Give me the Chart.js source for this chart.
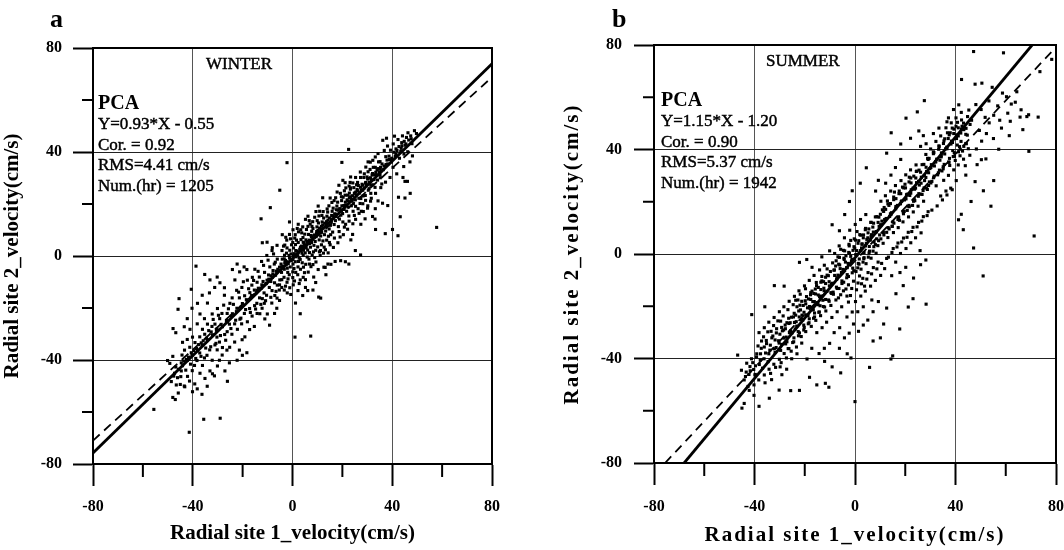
<!DOCTYPE html>
<html>
<head>
<meta charset="utf-8">
<script src="https://cdn.jsdelivr.net/npm/chart.js@4.4.0/dist/chart.umd.min.js"></script>
<style>
  html, body { margin: 0; padding: 0; background: #fff; }
  #wrap { position: relative; width: 1064px; height: 550px; }
  .panel { position: absolute; top: 0; width: 532px; height: 550px; }
</style>
</head>
<body>
<div id="wrap">
  <div class="panel" style="left:0"><canvas id="winterChart"></canvas></div>
  <div class="panel" style="left:532px"><canvas id="summerChart"></canvas></div>
</div>
<script>
// values (cm/s)
const axisMin = -80;
const axisMax = 80;
const tickStep = 20;
const labelStep = 40;

const winterPoints = [
  [36.2,44.5],[38.1,42.3],[40.4,43.1],[42.3,44.8],[44.1,46.2],[46.3,47.4],[47.6,45.1],[48.9,48.2],[45.2,42.6],[43.4,40.2],
  [41.2,38.4],[39.3,40.7],[37.4,38.2],[35.1,36.3],[34.3,39.4],[33.2,34.1],[36.4,33.2],[38.2,35.4],[40.3,34.1],[41.8,31.6],
  [44.3,30.2],[46.1,28.7],[47.2,24.1],[45.1,22.3],[44.6,34.4],[48.1,38.5],[47.1,36.2],[46.2,40.1],[39.1,30.2],[37.3,28.4],
  [35.2,30.1],[32.6,31.2],[31.1,33.3],[30.2,29.8],[29.3,28.1],[31.4,27.2],[33.1,26.4],[28.2,25.3],[26.4,27.1],[27.3,30.2],
  [24.2,28.1],[25.1,24.3],[23.3,26.2],[22.1,23.4],[27.4,22.1],[29.2,23.3],[31.3,21.1],[33.2,18.2],[30.1,18.4],[27.6,17.2],
  [25.3,19.1],[40.1,10.2],[42.3,7.8],[37.2,8.6],[38.2,19.4],[36.1,20.3],[33.1,14.2],[43.2,15.1],[42.5,22.6],[45.1,28.7],
  [36.8,40.6],[41.5,41.2],[43.8,43.6],[38.8,37.1],[34.9,33.4],[32.2,36.8],[30.7,25.9],[28.8,31.6],[35.8,27.7],[39.7,36.2],
  [42.9,37.6],[44.7,39.2],[40.9,46.1],[37.7,45.3],[47.9,43.2],[46.6,44.6],[49.7,47.1],
  [57.8,11],[22.5,41],[-2.2,35.9],[19.8,36],[-55.6,-59],[-41.4,-67.8],[-35.6,-62.8],[-29,-62.4],[1,-31.2],[7.3,-30.8],
  [-5.1,25.3],[-8.9,18.6],[-12.6,14.3],[10.5,-15.8],[27.3,0.4],[-38.7,-3.9],[-40.6,-12.8],[-45.5,-16.4],[-45.9,-20.5],
  [5.4,4.2],[6.8,6.1],[7.5,7.9],[8.3,6.4],[9.6,8.7],[10.2,9.8],[11.4,10.3],[12.1,11.9],[13.5,12.2],[14.2,13.8],
  [15.6,14.1],[6.1,2.3],[7.2,3.4],[8.6,4.1],[9.1,5.6],[10.7,6.2],[11.3,7.7],[12.8,8.2],[13.3,9.6],[14.7,10.4],
  [15.2,11.8],[6.4,8.3],[7.7,9.5],[8.2,10.6],[9.8,11.2],[10.4,12.7],[11.9,13.1],[12.5,14.6],[13.8,15.3],[14.1,16.9],
  [15.9,17.2],[6.6,-1.2],[7.9,0.4],[8.4,1.6],[9.3,2.2],[10.1,3.5],[11.6,4.3],[12.2,5.8],[13.7,6.1],[14.4,7.6],
  [15.3,8.2],[6.2,11.4],[8.1,13.2],[10.6,15.4],[12.3,17.1],[14.6,19.3],[7.4,-4.1],[9.4,-2.3],[11.1,0.2],[13.2,2.4],
  [15.1,4.3],[6.3,-6.2],[8.5,-8.1],[10.3,-5.2],[12.6,-4.3],[14.2,-3.1],[11.3,-16.2],[8.2,-13.1],[13.4,-7.2],[6.2,15.3],
  [9.4,17.1],[12.1,22.4],[10.3,19.2],[7.1,12.3],[5.2,14.1],[13.1,-4.4],[15.4,-3.2],[11.2,2.1],[9.3,-10.2],[6.1,-13.3],
  [14.3,1.2],[12.4,1.1],[8.2,-3.3],
  [16.2,15.3],[17.4,16.1],[18.3,17.6],[19.1,18.2],[20.6,19.4],[21.2,20.7],[22.4,21.1],[23.3,22.8],[24.1,23.2],[25.4,24.6],
  [16.7,12.1],[17.2,13.6],[18.8,14.2],[19.4,15.7],[20.1,16.3],[21.7,17.2],[22.3,18.8],[23.6,19.3],[24.4,20.1],[25.2,21.6],
  [16.3,18.4],[17.8,19.2],[18.1,20.7],[19.7,21.3],[20.3,22.6],[21.1,23.4],[22.8,24.2],[23.2,25.7],[24.6,26.3],[25.7,27.4],
  [16.1,9.2],[18.4,11.3],[20.2,13.1],[22.6,15.4],[24.3,17.2],[17.3,22.4],[19.2,24.1],[21.4,26.2],[23.1,28.3],[18.2,5.1],
  [20.4,8.2],[22.1,10.3],[24.2,12.4],[17.1,-2.1],[19.3,-1.8],[21.2,-2.2],[22.6,-3.1],[16.4,3.3],[18.6,27.2],[20.2,29.1],
  [15.1,22.3],[23.4,6.2],[25.3,14.1],[19.1,7.3],[21.3,12.2],[24.1,8.3],[21.1,28.2],[23.3,30.4],
  [26.2,25.1],[27.3,26.4],[28.1,27.2],[29.4,28.3],[30.2,29.6],[31.3,30.1],[32.1,31.7],[33.4,32.2],[34.2,33.6],[35.3,34.1],
  [26.6,22.2],[28.3,23.1],[30.4,25.3],[32.2,27.4],[34.1,29.2],[26.1,28.3],[28.6,30.2],[30.3,32.4],[32.4,34.1],[34.5,36.2],
  [27.1,20.2],[29.3,21.4],[31.6,22.2],[33.3,24.1],[35.4,26.3],[27.2,32.3],[29.4,34.2],[31.2,36.1],[26.3,18.2],[28.4,17.1],
  [30.2,19.3],[32.1,15.2],[25.2,2.1],[27.4,12.2],[29.1,14.3],[33.3,10.2],[30.3,36.2],[33.2,38.1],[35.1,31.2],[31.4,24.1],
  [34.3,21.2],[28.2,20.1],[25.3,30.2],
  [-4.2,-4.1],[-3.1,-2.6],[-2.3,-2.2],[-1.2,-0.8],[0.3,0.2],[1.4,-0.3],[2.2,1.3],[3.3,2.1],[4.1,3.4],[4.8,4.2],
  [-4.4,-6.3],[-3.3,-5.1],[-2.1,-4.7],[-0.9,-4.2],[0.2,-3.1],[1.1,-2.2],[2.4,-2.1],[3.1,-1.3],[4.3,0.3],[5.1,1.2],
  [-4.1,-1.2],[-3.2,0.3],[-2.4,1.1],[-1.1,2.2],[0.4,3.1],[1.2,4.4],[2.3,5.2],[3.4,6.3],[4.2,7.1],[4.9,8.4],
  [-4.3,-9.1],[-3.4,-8.2],[-2.2,-10.1],[-1.3,-7.2],[0.1,-6.1],[1.3,-6.3],[2.1,-7.2],[3.2,-5.1],[4.4,-4.3],[5.3,-3.2],
  [-4.2,2.1],[-3.1,4.2],[-2.3,6.1],[-1.2,8.3],[0.2,10.1],[1.1,8.2],[2.4,9.3],[3.3,10.1],[4.1,11.2],[-2.1,-14.2],
  [0.3,-11.1],[2.2,-13.3],[4.1,-15.2],[1.2,-18.1],[3.1,-22.2],[-5.2,-11.1],[-3.3,-13.1],[5.2,-9.1],[4.3,-8.2],[-1.1,-12.2],
  [-2.2,3.1],[0.1,5.2],[1.3,2.1],[3.2,3.4],[-3.3,-1.1],[-1.4,0.2],[0.2,-1.3],[2.1,0.1],[4.3,5.3],[5.4,6.2],
  [-4.1,8.2],[-1.2,13.1],[2.3,12.2],[0.1,-8.3],[2.2,-4.2],[4.4,2.2],[-4.3,-12.1],[3.1,-9.2],[5.2,-12.1],
  [-14.1,-13.2],[-12.3,-11.1],[-10.2,-9.3],[-8.1,-8.2],[-6.3,-6.1],[-13.2,-16.1],[-11.4,-14.2],[-9.3,-12.1],[-7.2,-10.3],[-14.3,-18.2],
  [-12.1,-16.4],[-10.4,-15.1],[-8.2,-13.3],[-6.1,-11.2],[-13.3,-8.1],[-11.2,-6.3],[-9.1,-4.2],[-7.3,-3.1],[-5.2,-4.3],[-12.2,-20.1],
  [-10.1,-22.3],[-8.3,-18.1],[-6.2,-16.2],[-12.4,-2.1],[-10.3,0.2],[-8.2,2.1],[-6.1,-1.2],[-11.1,-24.2],[-9.2,-26.6],[-6.3,-20.1],
  [-14.2,-10.1],[-7.1,-15.2],[-5.3,-13.1],[-5.1,-9.2],[-8.1,3.2],[-6.2,4.1],[-10.2,5.3],[-12.1,5.1],[-7.2,-22.1],[-11.3,-18.2],
  [-13.1,-22.2],[-5.2,-17.1],[-9.6,-7.3],[-7.8,-5.6],[-11.8,-9.8],[-13.7,-12.4],
  [-24.1,-22.2],[-22.3,-20.1],[-20.1,-18.3],[-18.2,-17.1],[-16.4,-15.2],[-23.2,-26.1],[-21.1,-24.3],[-19.3,-22.1],[-17.2,-20.2],[-24.3,-30.1],
  [-22.1,-28.2],[-20.4,-26.1],[-18.1,-25.3],[-16.2,-23.1],[-24.2,-16.1],[-22.4,-13.2],[-20.3,-12.1],[-18.1,-9.3],[-16.3,-11.2],[-23.1,-9.2],
  [-21.2,-6.1],[-19.4,-4.2],[-17.1,-14.1],[-25.3,-26.2],[-23.2,-33.1],[-21.3,-36.2],[-19.1,-31.1],[-18.3,-37.2],[-22.2,-40.1],[-20.2,-32.2],
  [-15.3,-27.1],[-17.2,-28.3],[-24.1,-5.2],[-21.3,-16.1],[-19.2,-15.3],[-15.2,-19.1],[-16.1,-8.2],[-15.3,-13.1],[-22.2,-3.1],[-18.3,-5.2],
  [-15.1,-5.1],[-20.1,-38.2],[-14.2,-22.1],[-25.2,-35.1],
  [-34.2,-32.1],[-32.1,-30.3],[-30.3,-28.1],[-28.1,-27.2],[-33.2,-36.1],[-31.1,-34.2],[-29.3,-33.1],[-27.2,-30.2],[-26.1,-25.3],[-28.3,-22.1],
  [-30.1,-20.2],[-32.2,-22.3],[-34.1,-18.1],[-33.3,-14.2],[-31.2,-12.1],[-29.1,-10.3],[-27.3,-15.1],[-25.1,-18.2],[-26.2,-22.1],[-34.3,-38.2],
  [-32.2,-40.1],[-30.1,-42.3],[-28.2,-38.1],[-26.3,-36.2],[-30.2,-36.1],[-33.1,-44.2],[-31.3,-46.1],[-34.2,-50.1],[-32.1,-45.3],[-35.2,-7.1],
  [-33.1,-9.2],[-30.2,-8.1],[-27.3,-12.2],[-28.1,-35.2],[-26.2,-29.1],[-31.1,-26.2],[-29.2,-24.1],[-27.1,-44.2],[-25.3,-41.1],[-30.3,-31.2],
  [-32.3,-27.1],[-34.1,-26.2],[-35.2,-30.1],[-26.1,-48.2],[-29.3,-40.1],
  [-44.1,-42.2],[-42.2,-40.1],[-40.3,-38.2],[-38.1,-36.3],[-41.2,-35.1],[-43.3,-36.2],[-39.1,-33.3],[-37.2,-31.1],[-36.3,-34.2],[-40.1,-31.2],
  [-42.2,-32.1],[-38.3,-40.2],[-36.1,-42.1],[-35.3,-39.2],[-40.2,-44.1],[-42.1,-46.3],[-41.3,-48.1],[-39.2,-49.2],[-37.1,-45.1],[-43.2,-50.3],
  [-40.1,-52.2],[-38.2,-51.1],[-36.3,-53.2],[-35.1,-47.1],[-44.3,-38.1],[-41.1,-28.2],[-38.2,-26.1],[-37.1,-22.3],[-40.3,-20.1],[-38.1,-18.2],
  [-36.2,-15.1],[-35.3,-24.1],[-36.1,-28.2],[-42.2,-24.1],[-44.1,-33.2],[-39.3,-42.1],[-37.2,-37.3],
  [-48,-38.6],[-46.8,-42.7],[-48,-54.4],[-47,-55.2],[-45,-49.4],[-43.4,-50],[-43.4,-27.2],[-47.9,-27.9],[-46.8,-29.5],[-49.2,-41.3],
  [-50.1,-40.2],[-47.3,-45.1],[-46.1,-46.8],[-44.6,-44.2],[-48.6,-48.3],[-45.8,-52.7],
  [-9.5,-8.9],[-8.7,-9.8],[-7.9,-6.9],[-6.8,-7.4],[-5.9,-5.1],[-4.9,-5.6],[-3.7,-3.9],[-2.8,-1.7],[-1.7,-2.9],[-0.6,-1.8],
  [0.7,0.9],[1.8,1.9],[2.9,2.6],[3.8,1.1],[4.6,5.1],[5.8,5.6],[6.9,4.8],[7.6,5.2],[8.8,8.1],[9.7,9.4],
  [10.8,10.7],[11.7,9.1],[12.9,12.6],[13.6,13.2],[14.8,14.6],[15.7,15.6],[16.9,16.2],[17.6,17.8],[18.9,18.1],[19.8,19.3],
  [20.7,17.9],[21.9,21.6],[22.8,22.4],[23.9,21.2],[24.8,24.1],[25.9,25.6],[26.8,24.2],[27.9,27.6],[28.7,26.1],[29.9,30.4],
  [30.8,28.3],[31.9,31.2],[32.7,29.4],[33.9,33.1],[34.8,32.2],[35.9,35.4],[36.7,34.6],[37.9,36.9],[38.7,38.4],[39.8,37.6],
  [40.7,39.9],[41.9,40.6],[42.7,42.1],[43.9,42.4],[44.8,44.1],[45.7,45.6],
  [-3.6,3.8],[-2.7,7.2],[-0.8,6.6],[0.9,6.9],[1.9,10.6],[3.7,8.9],[5.6,10.2],[6.7,13.6],[7.8,11.4],[8.9,14.9],
  [9.9,13.6],[10.9,17.2],[11.8,15.6],[13.9,18.1],[15.8,20.6],[16.7,21.3],[17.9,24.6],[19.6,22.8],[20.8,25.1],[22.7,26.9],
  [-7.6,0.8],[-6.9,-2.4],[-9.8,-1.6],[-11.6,-3.6],[-13.8,-5.9],[-15.6,-9.4],[-17.6,-12.6],[-19.7,-9.9],[-21.6,-13.9],[-23.7,-18.6],
  [-25.7,-20.3],[-27.6,-18.9],[-29.7,-22.8],[-31.8,-24.4],[-33.6,-28.7],[-35.8,-32.6],[-37.7,-34.1],[-39.6,-36.4],[-41.7,-38.9],[-43.6,-40.4],
  [-45.7,-43.6],[-47.6,-46.2],
  [-1.8,-8.8],[0.8,-9.6],[2.7,-10.6],[4.8,-6.4],[6.8,-3.1],[8.9,-0.6],[10.8,1.6],[12.7,3.4],[14.8,5.2],[16.8,6.9],
  [18.7,9.4],[20.8,11.1],[22.7,13.4],[24.8,15.6],[26.7,16.4],[-6.6,-13.6],[-8.7,-15.9],[-10.8,-17.2],[-12.7,-18.6],[-14.8,-20.4],
  [-16.9,-21.7],[-18.8,-20.6],[-20.7,-23.9],[-22.8,-24.7],[-24.7,-27.9],[-26.8,-32.4],[-28.9,-30.6],[-30.7,-33.6],[-32.8,-34.9],[-34.8,-35.4],
  [-36.7,-38.6],[-38.8,-39.4],[-40.9,-41.6],[-42.8,-43.9],[-44.8,-46.4],[-46.6,-49.6],
  [-44.6,-41.1],[-42.5,-39.8],[-40.6,-37.2],[-38.5,-35.6],[-36.6,-33.4],[-34.5,-31.6],[-32.6,-29.2],[-30.5,-28.6],[-28.6,-26.3],[-26.5,-24.8],
  [-24.6,-23.1],[-22.5,-21.4],[-20.6,-19.6],[-18.5,-16.8],[-16.6,-15.9],[-14.5,-14.1],[-12.6,-12.4],[-10.5,-10.6],[-8.6,-7.6],[-6.5,-5.8],
  [-4.6,-3.1],[-2.5,-3.4],[-0.6,0.8],[1.5,0.4],[3.6,3.8],[5.5,3.1],[7.6,7.4],[9.5,7.6],[11.6,11.4],[13.5,11.1],
  [15.6,13.4],[17.5,15.2],[19.6,17.4],[21.5,19.6],[23.6,21.8],[25.5,23.4],[27.6,25.2],[29.5,27.4],[31.6,29.1],[33.5,31.3],
  [35.6,32.8],[37.5,35.2],[39.6,36.8],[41.5,39.2],[43.6,41.4],[45.5,43.1],[47.4,46.2],
  [-1.9,-6.3],[0.6,-4.8],[2.7,-0.8],[3.9,-2.6],[5.9,-0.4],[6.8,1.3],[-0.4,4.3],[1.6,6.1],[-2.8,-11.6],[-0.7,-14.8]
];

const summerPoints = [
  [47.2,77.5],[59.1,77],[78.3,74.5],[73.6,69.8],[42.4,66.8],[47.8,65],[50.5,65.4],[54.6,63.8],[58.7,61.6],[60.3,60.2],
  [63.8,58.1],[66.1,55.2],[68.4,52.6],[65.7,52.4],[61.8,50.8],[55.2,53.1],[53.4,50.2],[50.2,55.3],[48.1,57.2],[45.3,55.1],
  [66.8,47.6],[58.3,48.2],[61.4,45.3],[55.1,44.2],[52.3,46.1],[50.4,43.2],[57.2,40.1],[69.2,39.3],[48.3,40.2],[52.1,36.4],
  [50.3,36.1],[47.8,27.7],[55.2,28.1],[51.1,24.2],[54.1,18.3],[46.2,20.1],[42.3,15.2],[43.1,9.3],[41.2,13.1],[71.3,6.9],
  [47.2,2.3],[51,-8.4],[62.2,57.4],[56.8,56.7],[51.8,52.3],[45.8,49.6],[49.5,47.3],[53.3,58.6],[60.8,53.9],[57.6,51.2],
  [44.1,45.8],[46.4,51.2],[69.1,53.3],[64.4,62.1],[72.9,52.4],[48.6,34.2],[45.7,37.8],
  [30.2,33.1],[32.1,35.4],[34.3,37.2],[36.1,40.3],[38.2,42.1],[40.4,44.2],[42.1,46.3],[44.2,48.1],[31.3,29.2],[33.2,31.1],
  [35.1,33.4],[37.3,35.2],[39.1,37.3],[41.2,39.1],[43.3,41.2],[29.1,36.2],[31.2,38.4],[33.3,40.1],[35.2,42.3],[37.1,44.2],
  [39.3,46.1],[41.1,48.3],[43.2,50.1],[36.2,48.3],[38.3,50.2],[40.2,52.1],[42.3,54.2],[34.1,45.2],[32.2,43.1],[30.1,40.2],
  [28.2,38.1],[35.3,28.2],[37.2,30.1],[39.3,32.2],[41.1,34.1],[43.2,36.3],[44.1,30.2],[40.3,28.1],[38.1,25.2],[36.2,24.1],
  [34.1,22.2],[32.3,26.1],[30.2,27.2],[29.3,31.1],[44.3,42.2],[42.2,43.1],[45.1,40.3],[39.2,55.3],[41.3,57.1],[37.2,52.1],
  [33.4,48.2],[31.2,46.1],[28.3,42.2],[27.6,58.7],[24.8,54.4],[20.3,52],[14.4,46.4],[12.6,38.6],[18.2,42.1],[22.1,44.3],
  [25.4,47.1],[27.2,45.3],[26.1,41.2],[36.8,46.4],[38.9,39.6],[40.7,41.7],[42.8,39.4],[44.7,45.5],[35.7,38.3],[33.8,35.9],
  [31.6,33.7],[34.6,31.8],[37.7,33.9],[39.9,35.8],[41.8,37.6],[43.9,33.8],[42.6,48.9],[40.8,50.4],[38.7,48.2],[36.6,50.6],
  [10.2,11.1],[12.1,13.2],[14.3,15.1],[16.2,17.3],[18.1,19.2],[20.3,21.1],[22.2,23.3],[24.1,25.2],[26.3,27.1],[28.2,29.3],
  [11.3,8.2],[13.2,10.1],[15.1,12.3],[17.3,14.2],[19.2,16.1],[21.1,18.3],[23.3,20.2],[25.2,22.1],[27.1,24.3],[29.3,26.2],
  [10.1,15.2],[12.2,17.1],[14.1,19.3],[16.3,21.2],[18.2,23.1],[20.1,25.3],[22.3,27.2],[24.2,29.1],[26.1,31.3],[28.3,33.2],
  [11.2,4.1],[13.1,6.3],[15.3,8.2],[17.2,10.1],[19.1,12.3],[21.3,14.2],[23.2,16.1],[25.1,18.3],[27.3,20.2],[10.3,20.2],
  [12.1,22.3],[14.2,24.1],[16.1,26.2],[18.3,28.1],[20.2,30.3],[22.1,32.2],[24.3,34.1],[15.2,2.1],[17.1,4.2],[19.3,6.1],
  [21.2,8.3],[23.1,10.2],[25.3,12.1],[27.2,14.3],[29.1,16.2],[13.3,-1.2],[16.2,-3.1],[18.1,0.2],[20.3,2.1],[22.2,4.3],
  [24.1,6.2],[26.3,8.1],[12.2,27.1],[14.3,30.2],[16.1,33.1],[18.2,36.2],[8.2,24.1],[9.3,28.2],[4.5,33],[20.2,-5.1],
  [23.3,-9.2],[26.1,-4.1],[28.2,-2.3],[23.1,-17.1],[28.3,-19.2],[19.2,-12.1],[16.3,-15.2],[21.2,-20.3],[17.8,-28.7],[25.9,1.3],
  [11.8,-5.6],[14.6,-8.3],[17.9,-7.1],[10.7,12.6],[13.8,14.4],[16.9,18.6],[19.7,20.7],[21.8,22.4],[23.7,24.8],[25.6,26.4],
  [27.7,28.1],[15.7,23.7],[18.9,25.6],[21.6,29.4],[24.6,31.7],[12.9,20.3],[11.6,17.8],[14.8,10.6],[17.7,12.9],[20.8,16.7],
  [22.9,18.6],[26.7,22.8],[28.8,24.7],
  [-9.1,-11.2],[-7.2,-9.1],[-5.3,-7.3],[-3.1,-5.2],[-1.2,-2.1],[0.3,-0.2],[2.1,1.3],[4.2,3.1],[6.1,5.3],[8.3,8.2],
  [-8.2,-6.1],[-6.1,-4.2],[-4.3,-2.1],[-2.2,0.3],[-0.1,2.2],[1.2,4.1],[3.3,6.2],[5.2,8.1],[7.1,10.3],[9.2,12.1],
  [-9.3,-15.1],[-7.1,-13.2],[-5.2,-11.3],[-3.3,-9.1],[-1.1,-7.2],[1.1,-5.3],[3.2,-3.1],[5.3,-1.2],[7.2,1.1],[9.1,3.2],
  [-6.2,-1.3],[-4.1,1.2],[-2.3,3.1],[0.2,5.3],[2.3,7.2],[4.1,9.3],[6.3,12.1],[8.1,14.2],[-8.1,0.2],[-6.3,3.1],
  [-4.2,6.2],[-2.1,9.1],[0.1,11.3],[2.2,13.2],[4.3,15.1],[-9.1,11.2],[-6.2,8.9],[-4.1,15.1],[-2.2,20.1],[-1.1,24.2],
  [2.1,27.1],[-3.2,-16.1],[-1.3,-13.2],[1.2,-11.1],[3.1,-9.3],[5.2,-7.1],[7.3,-5.2],[9.2,-3.1],[0.2,-18.2],[2.3,-16.1],
  [4.1,-14.2],[6.2,-12.3],[8.1,-10.1],[10.2,-8.2],[1.1,-22.1],[3.3,-20.2],[5.1,-25.3],[7.2,-22.1],[9.3,-18.2],[10.1,-32.1],
  [7.2,-33.3],[3.3,-27.2],[-1.6,-39.8],[0,-56.5],[5.8,-43.4],[15,-39],[14.3,-40.2],[11.4,-26.8],[12.6,-20.7],[-0.8,1.4],
  [1.7,-1.9],[3.6,0.6],[5.7,2.9],[7.6,4.6],[-2.7,-3.6],[-4.8,-5.9],[-6.8,-8.1],[0.8,8.6],[2.8,3.7],[4.7,5.6],
  [6.6,7.4],[8.7,5.8],[-1.7,5.2],[-3.6,-0.7],[-5.7,1.8],[-7.5,-2.6],[9.8,7.3],[-0.6,-10.4],[-2.6,-11.8],[1.8,-8.4],
  [3.8,-12.3],[6.7,-17.6],
  [-24.1,-26.2],[-22.2,-24.1],[-20.3,-22.3],[-18.1,-20.1],[-16.2,-18.2],[-14.1,-16.3],[-12.3,-14.1],[-10.2,-12.2],[-23.1,-20.2],[-21.2,-18.1],
  [-19.3,-16.3],[-17.1,-14.2],[-15.3,-12.1],[-13.2,-10.3],[-11.1,-8.1],[-24.3,-32.1],[-22.1,-30.2],[-20.2,-28.1],[-18.3,-26.3],[-16.1,-24.1],
  [-14.2,-22.2],[-12.1,-20.3],[-10.3,-18.1],[-22.3,-14.1],[-20.1,-12.2],[-18.2,-10.1],[-16.3,-8.2],[-14.1,-6.1],[-12.2,-4.3],[-19.2,-2.1],
  [-22.1,-3.2],[-17.1,-5.1],[-13.2,-1.1],[-10.1,1.2],[-15.2,-30.1],[-13.1,-28.2],[-11.3,-26.1],[-9.2,-24.3],[-7.1,-22.1],[-5.3,-20.2],
  [-3.2,-24.1],[-1.1,-22.2],[-8.3,-30.1],[-6.1,-28.2],[-4.2,-32.1],[-2.3,-30.3],[-12.2,-36.1],[-10.1,-34.2],[-14.3,-38.1],[-9.1,-43.2],
  [-12.1,-41.1],[-11.8,-49.5],[-10.4,-51],[-5.7,-45.5],[-15.2,-50.1],[-18.1,-47.2],[-17.2,-36.1],[-19.1,-40.2],[-21.2,-34.1],[-23.1,-38.2],
  [-25.2,-40.1],[-6.2,-36.1],[-3.1,-38.2],[-21.7,-21.4],[-19.6,-19.1],[-17.6,-17.4],[-15.7,-15.3],[-13.6,-13.6],[-11.7,-11.3],[-20.8,-25.3],
  [-18.7,-23.6],[-16.6,-21.4],[-14.7,-19.4],[-12.8,-17.7],[-23.6,-23.4],[-8.7,-14.6],[-6.6,-16.8],[-4.6,-14.1],[-2.6,-18.4],[-0.6,-26.8],
  [1.4,-29.6],
  [-44.1,-48.2],[-42.2,-46.1],[-40.3,-44.2],[-38.1,-42.3],[-36.2,-40.1],[-34.3,-38.2],[-32.1,-36.3],[-30.2,-34.1],[-28.3,-32.2],[-26.1,-30.1],
  [-41.2,-40.1],[-39.1,-38.2],[-37.3,-36.1],[-35.2,-34.3],[-33.1,-32.1],[-31.3,-30.2],[-29.2,-28.1],[-27.1,-26.3],[-25.3,-24.2],[-42.1,-52.2],
  [-40.2,-50.1],[-38.3,-48.2],[-36.1,-46.3],[-34.2,-44.1],[-32.3,-42.2],[-30.1,-40.3],[-28.2,-38.1],[-26.3,-36.2],[-38.2,-30.1],[-36.1,-28.2],
  [-34.3,-26.1],[-32.2,-24.3],[-30.1,-22.1],[-28.3,-20.2],[-26.2,-18.1],[-24.1,-16.2],[-41.1,-23.2],[-35.9,-20.2],[-32.1,-12.1],[-28.2,-12.3],
  [-38.2,-58.3],[-45,-59],[-44.1,-57.2],[-40.2,-54.1],[-46.7,-38.7],[-34.1,-55.2],[-30.2,-52.1],[-25.6,-52.3],[-22.1,-52.2],[-33.2,-48.1],
  [-29.1,-46.2],[-27.2,-44.1],[-37.2,-33.3],[-33.4,-29.6],[-29.6,-25.7],[-31.4,-35.8],[-35.6,-37.9],[-39.7,-46.1],[-27.6,-34.4],[-23.8,-28.7],
  [-29.8,-43.2],[-43.1,-41.8],[-45.2,-44.5],
  [-43.3,-45.2],[-42.6,-50.7],[-41.8,-43.1],[-40.7,-41.6],[-39.8,-46.3],[-39.2,-39.4],[-37.6,-38.2],[-36.8,-43.7],[-36.1,-35.6],[-35.3,-33.1],
  [-34.6,-41.2],[-33.9,-36.8],[-32.7,-31.4],[-31.8,-37.7],[-31.2,-28.6],[-30.4,-33.2],[-29.6,-36.9],[-28.9,-29.4],[-27.8,-27.2],[-27.1,-33.6],
  [-26.4,-24.6],[-25.6,-29.4],[-24.8,-33.9],[-24.2,-22.7],[-23.4,-25.9],[-22.6,-29.7],[-21.9,-19.6],[-21.1,-23.4],[-20.4,-27.2],[-19.8,-17.9],
  [-18.9,-20.6],[-18.2,-24.8],[-17.6,-14.8],[-16.8,-18.2],[-16.1,-22.6],[-15.4,-10.9],[-14.6,-15.7],[-13.9,-19.8],[-13.2,-8.6],[-12.4,-13.1],
  [-11.7,-17.4],[-11.1,-5.7],[-10.3,-10.6],[-9.6,-14.8],[-8.9,-3.4],[-8.1,-8.2],[-7.4,-12.7],[-6.8,-1.1],[-5.9,-5.6],[-5.2,-10.3],
  [-4.6,1.4],[-3.8,-3.1],[-3.1,-7.9],[-2.4,3.7],[-1.7,-0.9],[-0.9,-5.4],[-0.3,5.8],[0.6,1.3],[1.3,-3.6],[1.9,7.4],
  [2.8,3.9],[3.6,-1.4],[4.2,9.8],[5.1,6.2],[5.8,1.1],[6.4,12.1],[7.3,8.4],[8.1,3.6],[8.7,14.3],[9.6,10.6],
  [10.3,5.8],[10.9,16.9],[11.8,13.2],[12.6,8.3],[13.1,19.2],[14.1,15.4],[14.8,10.6],[15.4,21.8],[16.3,18.1],[17.1,13.2],
  [17.6,24.1],[18.6,20.3],[19.3,15.4],[19.9,26.7],[20.8,22.9],[21.6,18.1],[22.2,29.1],[23.1,25.2],[23.8,20.4],[24.4,31.6],
  [25.3,27.8],[26.1,22.9],[26.7,34.2],[27.6,30.1],[28.4,25.3],[28.9,36.6],[29.8,32.7],[30.6,27.8],[31.2,39.1],[32.1,35.2],
  [32.9,30.3],[33.4,41.4],[34.3,37.6],[35.1,32.6],[35.7,44.1],[36.6,40.3],[37.4,35.1],[37.9,46.4],[38.8,42.7],[39.6,37.4],
  [40.2,48.9],[41.1,45.2],[41.9,40.1],[42.4,51.3],[43.3,47.6],[44.1,42.3],[44.8,52.6],
  [-38.6,-35.2],[-36.4,-31.7],[-34.7,-29.8],[-32.4,-27.4],[-30.7,-25.6],[-28.6,-23.7],[-26.7,-21.3],[-24.6,-19.4],[-22.7,-17.6],[-33.6,-45.7],
  [-35.8,-49.3],[-31.6,-43.4],[-29.4,-41.6],[-27.3,-39.8],[-25.4,-37.2],[-23.3,-35.6],[-21.4,-31.6],[-19.6,-29.7],[-17.4,-27.7],[-15.6,-25.4],
  [-13.7,-23.6],[-11.6,-21.8],[-9.6,-19.7],[-7.6,-17.6],[-5.7,-15.6],[-3.6,-13.4],[-1.8,-15.9],[0.6,-13.7],[2.6,-11.4],[4.7,-9.6],
  [6.6,-7.6],[8.7,-5.7],[10.6,-3.6],[12.6,-1.7],[14.7,0.6],[16.7,2.7],[18.6,4.6],[20.7,6.4],[22.6,8.6],[24.7,10.4],
  [26.6,12.6],[28.7,14.7],[30.6,16.8],[32.7,18.4],[34.8,20.7],[36.6,22.6],[38.7,24.6],[0.4,-6.7],[2.4,-5.8],[4.4,-3.7],
  [6.4,-1.6],[8.4,0.3],[-7.7,-4.6],[-9.8,-6.7],[-11.7,-8.9],[-13.6,-10.8],[-15.8,-13.4],[-17.7,-15.6],[-19.7,-13.3],[-21.8,-15.4],
  [-23.6,-17.7],[-25.8,-26.3],[-27.7,-28.6],[-29.9,-30.7],[-31.8,-32.9],[-33.7,-34.9],[-37.7,-40.6],[-39.6,-42.8],[-41.7,-44.7],[-43.6,-46.9],
  [-29.2,-34.6],[-27.4,-31.8],[-25.1,-30.2],[-23.2,-27.6],[-21.3,-25.1],[-19.4,-23.3],[-17.3,-20.4],[-15.2,-18.6],[-13.4,-16.1],[-11.2,-14.3],
  [-9.4,-11.6],[-7.3,-9.7],[-5.4,-7.1],[-3.3,-5.2],[-1.4,-2.7],[0.7,-0.4],[2.6,2.3],[4.5,4.1],[6.4,6.7],[8.5,8.6],
  [10.4,11.2],[12.4,13.6],[14.5,15.8],[16.4,18.2],[18.4,20.1],[20.5,22.7],[22.4,24.6],[24.5,27.3],[26.4,29.4],[28.5,31.6],
  [30.4,34.2],[32.5,36.3],[34.4,38.7],[36.5,40.9],[38.4,43.2],[40.5,45.6],[42.4,47.8],
  [-28.4,-29.1],[-26.3,-26.6],[-24.5,-24.1],[-22.4,-21.8],[-20.6,-19.7],[-18.5,-17.2],[-16.4,-15.1],[-14.6,-12.8],[-12.5,-10.6],[-10.6,-8.3],
  [-8.4,-6.2],[-6.5,-3.9],[-4.4,-1.6],[-2.5,0.6],[-0.4,2.8],[1.5,5.1],[3.4,7.3],[5.5,9.6],[7.4,11.8],[9.5,14.1],
  [11.4,16.3],[13.5,18.6],[15.4,20.8],[17.5,23.1],[19.4,25.3],[21.5,27.6],[23.4,29.8],[25.5,32.1],[27.4,34.3],[29.5,36.6],
  [31.4,38.8],[33.5,41.1],[35.4,43.3],[37.5,45.6],[39.4,47.8],
  [-26.6,-36.2],[-24.4,-33.6],[-22.5,-31.3],[-20.4,-29.1],[-18.6,-26.7],[-16.5,-24.6],[-14.4,-22.3],[-12.6,-20.1],[-10.5,-17.6],[-8.6,-15.4],
  [-6.4,-13.2],[-4.5,-10.8],[-2.6,-8.6],[-0.5,-6.4],[1.6,-3.9],[3.5,-1.8],[5.6,0.4],[7.5,2.8],[9.4,5.1],[11.5,7.3],
  [13.6,9.6],[15.5,11.8],[17.4,14.1],[19.6,16.3],[21.5,18.6],[23.6,20.8],[25.4,23.1],[27.5,25.3],[29.6,27.6],[31.5,29.8],
  [33.6,32.1],[35.5,34.3],[37.6,36.6],[39.5,38.8],[41.6,41.1]
];

// fitted lines: solid = PCA fit, dashed = second fit, endpoints as read
const winterSolid = [[-80, -75.8], [80, 73.9]];
const winterDashed = [[-80, -71], [80, 68.8]];
const summerSolid = [[-68, -80], [70.5, 80]];
const summerDashed = [[-75.6, -80], [79.6, 78.8]];

const winterNotes = ['Y=0.93*X - 0.55', 'Cor. = 0.92', 'RMS=4.41 cm/s', 'Num.(hr) = 1205'];
const summerNotes = ['Y=1.15*X - 1.20', 'Cor. = 0.90', 'RMS=5.37 cm/s', 'Num.(hr) = 1942'];

const xTitle = 'Radial site 1_velocity(cm/s)';
const yTitle = 'Radial site 2_velocity(cm/s)';

const serif = '"Liberation Serif", "Times New Roman", serif';
const isMajor = v => v % labelStep === 0;

const toXY = pts => pts.map(p => ({x: p[0], y: p[1]}));

// frame, short minor ticks, panel letter and the PCA notes
const panelDecor = {
  id: 'panelDecor',
  afterDraw(chart, args, opts) {
    const {ctx, chartArea: a, scales: {x, y}} = chart;
    ctx.save();
    ctx.strokeStyle = '#000';
    ctx.lineWidth = 2;
    ctx.strokeRect(a.left, a.top, a.right - a.left, a.bottom - a.top);
    for (let v = axisMin + tickStep; v < axisMax; v += tickStep) {
      if (isMajor(v)) continue;
      const px = x.getPixelForValue(v);
      ctx.beginPath();
      ctx.moveTo(px, a.bottom);
      ctx.lineTo(px, a.bottom + 13);
      ctx.stroke();
      const py = y.getPixelForValue(v);
      ctx.beginPath();
      ctx.moveTo(a.left, py);
      ctx.lineTo(a.left - 11, py);
      ctx.stroke();
    }
    ctx.fillStyle = '#000';
    ctx.textBaseline = 'middle';
    ctx.textAlign = 'left';
    ctx.font = 'bold 26px ' + serif;
    ctx.fillText(opts.letter, opts.letterX, 20);
    // the scanned labels look heavier than plain regular weight
    ctx.lineWidth = 0.45;
    ctx.font = '17px ' + serif;
    ctx.fillText(opts.season, a.left + opts.seasonDx, a.top + 17);
    ctx.strokeText(opts.season, a.left + opts.seasonDx, a.top + 17);
    ctx.font = 'bold 20px ' + serif;
    ctx.fillText('PCA', a.left + opts.noteDx, a.top + 56);
    ctx.font = '17px ' + serif;
    opts.notes.forEach((t, i) => {
      const ty = a.top + 77 + i * 20.5;
      ctx.fillText(t, a.left + opts.noteDx, ty);
      ctx.strokeText(t, a.left + opts.noteDx, ty);
    });
    ctx.restore();
  }
};

function spacedTitle(scale, spacing) {
  if (!spacing || scale.$spaced) return;
  const draw = scale.drawTitle.bind(scale);
  scale.drawTitle = () => {
    scale.ctx.save();
    scale.ctx.letterSpacing = spacing;
    draw();
    scale.ctx.restore();
  };
  scale.$spaced = true;
}

function makePanel(canvasId, points, solid, dashed, p) {
  return new Chart(document.getElementById(canvasId), {
    type: 'scatter',
    data: {
      datasets: [{
        data: toXY(points),
        pointStyle: 'rect',
        pointRadius: 2.2,
        borderWidth: 0,
        backgroundColor: '#000'
      }, {
        data: toXY(solid),
        showLine: true,
        pointRadius: 0,
        borderColor: '#000',
        borderWidth: 2.8
      }, {
        data: toXY(dashed),
        showLine: true,
        pointRadius: 0,
        borderColor: '#000',
        borderWidth: 1.8,
        borderDash: [9, 6]
      }]
    },
    options: {
      responsive: true,
      maintainAspectRatio: false,
      animation: false,
      layout: {padding: {left: 0, top: p.top, right: p.right, bottom: 0}},
      plugins: {
        legend: {display: false},
        tooltip: {enabled: false},
        panelDecor: {letter: p.letter, letterX: p.letterX, season: p.season,
          seasonDx: p.seasonDx, noteDx: p.noteDx, notes: p.notes}
      },
      scales: {
        x: {
          type: 'linear',
          min: axisMin,
          max: axisMax,
          afterFit: s => {
            s.height = p.xHeight;
            s.paddingLeft = 0;
            s.paddingRight = 0;
            spacedTitle(s, p.titleSpacing);
          },
          ticks: {
            stepSize: tickStep,
            autoSkip: false,
            maxRotation: 0,
            padding: p.xTickPad,
            color: '#000',
            font: {family: serif, size: 16, weight: 'bold'},
            callback: v => isMajor(v) ? v : ''
          },
          grid: {
            color: c => (isMajor(c.tick.value) && Math.abs(c.tick.value) < axisMax) ? '#555' : 'rgba(0,0,0,0)',
            lineWidth: 1,
            tickLength: 22,
            tickWidth: 2,
            tickColor: c => isMajor(c.tick.value) ? '#000' : 'rgba(0,0,0,0)'
          },
          border: {display: true, color: '#000', width: 2},
          title: {
            display: true,
            text: xTitle,
            color: '#000',
            font: {family: serif, size: 21, weight: 'bold'},
            padding: {top: 0, bottom: p.xTitlePad}
          }
        },
        y: {
          type: 'linear',
          min: axisMin,
          max: axisMax,
          afterFit: s => {
            s.width = p.yWidth;
            s.paddingTop = 0;
            s.paddingBottom = 0;
            spacedTitle(s, p.titleSpacing);
          },
          ticks: {
            stepSize: tickStep,
            autoSkip: false,
            padding: p.yTickPad,
            color: '#000',
            font: {family: serif, size: 16, weight: 'bold'},
            callback: v => isMajor(v) ? v : ''
          },
          grid: {
            color: c => (isMajor(c.tick.value) && Math.abs(c.tick.value) < axisMax) ? '#222' : 'rgba(0,0,0,0)',
            lineWidth: 1,
            tickLength: 20,
            tickWidth: 2,
            tickColor: c => isMajor(c.tick.value) ? '#000' : 'rgba(0,0,0,0)'
          },
          border: {display: true, color: '#000', width: 2},
          title: {
            display: true,
            text: yTitle,
            color: '#000',
            font: {family: serif, size: 21, weight: 'bold'},
            padding: {top: p.yTitlePad, bottom: 0}
          }
        }
      }
    },
    plugins: [panelDecor]
  });
}

makePanel('winterChart', winterPoints, winterSolid, winterDashed, {
  top: 48, right: 40, xHeight: 86, yWidth: 93,
  xTickPad: 11, yTickPad: 11, xTitlePad: 4, yTitlePad: 0,
  letter: 'a', letterX: 50, season: 'WINTER', seasonDx: 113, noteDx: 5,
  notes: winterNotes, titleSpacing: null
});

makePanel('summerChart', summerPoints, summerSolid, summerDashed, {
  top: 45, right: 8, xHeight: 87, yWidth: 122,
  xTickPad: 12, yTickPad: 12, xTitlePad: 2, yTitlePad: 28,
  letter: 'b', letterX: 80, season: 'SUMMER', seasonDx: 112, noteDx: 7,
  notes: summerNotes, titleSpacing: '2px'
});
</script>
</body>
</html>
